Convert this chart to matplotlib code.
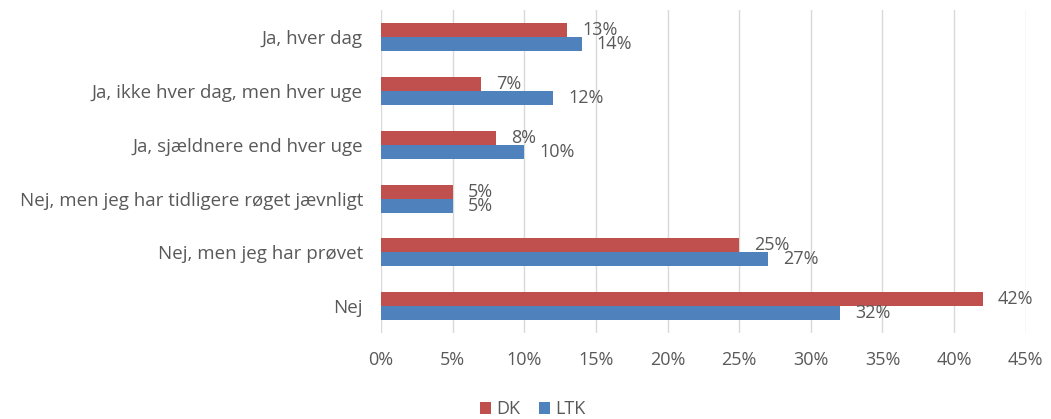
import numpy as np
from matplotlib import pyplot as plt

categories = ['Ja, hver dag', 'Ja, ikke hver dag, men hver uge', 'Ja, sjældnere end hver uge',
              'Nej, men jeg har tidligere røget jævnligt', 'Nej, men jeg har prøvet', 'Nej']
dk = [13, 7, 8, 5, 25, 42]
ltk = [14, 12, 10, 5, 27, 32]
xticks = [0, 5, 10, 15, 20, 25, 30, 35, 40, 45]

red = '#C0504D'
blue = '#4F81BD'
grey = '#595959'

plt.rcParams['font.family'] = ['Open Sans', 'DejaVu Sans']

fig = plt.figure(figsize=(10.51, 4.19), dpi=100)
ax = fig.add_axes([0.3625, 0.205, 0.976 - 0.3625, 0.771])

y = np.arange(len(categories))
h = 0.26
ax.barh(y - h/2, dk, height=h, color=red, label='DK', zorder=3)
ax.barh(y + h/2, ltk, height=h, color=blue, label='LTK', zorder=3)

for yi, v in zip(y, dk):
    ax.annotate('%d%%' % v, (v, yi - h/2), xytext=(11, 0), textcoords='offset points',
                va='center', ha='left', fontsize=13, color=grey)
for yi, v in zip(y, ltk):
    ax.annotate('%d%%' % v, (v, yi + h/2), xytext=(11, 0), textcoords='offset points',
                va='center', ha='left', fontsize=13, color=grey)

ax.set_ylim(len(categories) - 0.5, -0.5)
ax.set_xlim(0, 45)
ax.set_xticks(xticks)
ax.set_xticklabels(['%d%%' % t for t in xticks])
ax.set_yticks(y)
ax.set_yticklabels(categories, fontsize=13.5)
ax.tick_params(axis='both', length=0, colors=grey)
ax.tick_params(axis='x', pad=13, labelsize=13)
ax.tick_params(axis='y', pad=13)
ax.grid(axis='x', color='#D9D9D9', lw=1, zorder=0)
for s in ax.spines.values():
    s.set_visible(False)

fig.legend(loc='lower center', bbox_to_anchor=(0.507, -0.037), ncol=2, frameon=False,
           fontsize=13, handlelength=0.6, handleheight=0.6, handletextpad=0.3,
           columnspacing=1.0, labelcolor=grey)

fig.savefig('out.png', dpi=100)
